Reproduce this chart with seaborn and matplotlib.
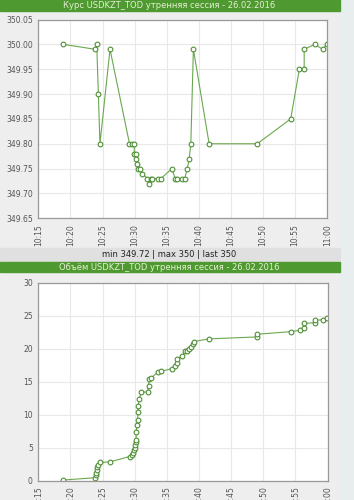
import numpy as np
import pandas as pd
import matplotlib
matplotlib.use("Agg")
import matplotlib.pyplot as plt
import matplotlib.dates as mdates
from matplotlib.patches import Rectangle
import seaborn as sns

# %% data

day = "2016-02-26"

price_times = [
    "10:18:54", "10:23:53", "10:24:06", "10:24:21", "10:24:36", "10:26:10",
    "10:29:12", "10:29:36", "10:29:57", "10:29:57", "10:30:12", "10:30:12",
    "10:30:24", "10:30:36", "10:30:48", "10:31:09", "10:32:00", "10:32:12",
    "10:32:30", "10:32:42", "10:33:36", "10:34:06", "10:35:48", "10:36:18",
    "10:36:39", "10:37:24", "10:37:48", "10:38:12", "10:38:30", "10:38:45",
    "10:39:09", "10:41:36", "10:49:06", "10:54:18", "10:55:39", "10:56:24",
    "10:56:24", "10:58:03", "10:59:18", "10:59:54",
]
price_values = [
    350.00, 349.99, 350.00, 349.90, 349.80, 349.99,
    349.80, 349.80, 349.80, 349.78, 349.78, 349.77,
    349.76, 349.75, 349.75, 349.74, 349.73, 349.72,
    349.73, 349.73, 349.73, 349.73, 349.75, 349.73,
    349.73, 349.73, 349.73, 349.75, 349.77, 349.80,
    349.99, 349.80, 349.80, 349.85, 349.95, 349.95,
    349.99, 350.00, 349.99, 350.00,
]

volume_times = [
    "10:18:54", "10:23:53", "10:23:57", "10:24:00", "10:24:06", "10:24:12",
    "10:24:21", "10:24:36", "10:26:10", "10:29:12", "10:29:36", "10:29:48",
    "10:29:57", "10:30:03", "10:30:06", "10:30:09", "10:30:12", "10:30:15",
    "10:30:21", "10:30:27", "10:30:30", "10:30:33", "10:30:42", "10:31:03",
    "10:32:00", "10:32:09", "10:32:15", "10:32:36", "10:33:36", "10:34:06",
    "10:35:48", "10:36:18", "10:36:33", "10:36:39", "10:37:24", "10:37:48",
    "10:38:06", "10:38:30", "10:38:45", "10:39:03", "10:39:09", "10:41:36",
    "10:49:06", "10:49:06", "10:54:18", "10:55:39", "10:56:18", "10:56:24",
    "10:58:03", "10:58:03", "10:59:18", "10:59:54",
]
volume_values = [
    0.15, 0.5, 0.9, 1.26, 1.66, 2.07,
    2.4, 2.8, 2.9, 3.7, 3.9, 4.2,
    4.7, 5.0, 5.4, 5.9, 6.2, 7.4,
    8.4, 9.2, 10.4, 11.3, 12.4, 13.4,
    13.5, 14.4, 15.4, 15.6, 16.5, 16.6,
    17.0, 17.4, 17.8, 18.5, 18.9, 19.6,
    19.7, 20.0, 20.3, 20.8, 21.1, 21.5,
    21.8, 22.2, 22.6, 22.8, 23.1, 23.85,
    23.95, 24.3, 24.4, 24.7,
]

price_title = "Курс USDKZT_TOD утренняя сессия - 26.02.2016"
volume_title = "Объём USDKZT_TOD утренняя сессия - 26.02.2016"

# %%

price = pd.DataFrame({"time": pd.to_datetime([f"{day} {t}" for t in price_times]),
                      "value": price_values})
volume = pd.DataFrame({"time": pd.to_datetime([f"{day} {t}" for t in volume_times]),
                       "value": volume_values})

sns.set_style("white")
plt.rcParams["font.family"] = ["DejaVu Sans"]
plt.rcParams["font.size"] = 5.5

W, H = 354, 500
fig = plt.figure(figsize=(W / 100, H / 100), dpi=100, facecolor="#eeeeee")

# right strip and header bars (pixel coords -> figure fractions)
def bar(x0, y0, x1, y1, color):
    fig.patches.append(Rectangle((x0 / W, 1 - y1 / H), (x1 - x0) / W, (y1 - y0) / H,
                                 transform=fig.transFigure, color=color, zorder=0))

bar(340, 0, 354, 500, "#e8eeee")
bar(0, 0, 340, 11, "#4f9a30")
bar(0, 248, 340, 261, "#e0e0e0")
bar(0, 261.5, 340, 272, "#4f9a30")

fig.text(169 / W, 1 - 5.5 / H, price_title, ha="center", va="center",
         color="#e4efd4", fontsize=6.0)
fig.text(169 / W, 1 - 267 / H, volume_title, ha="center", va="center",
         color="#e4efd4", fontsize=6.0)
stats = f"min {min(price_values):g} | max {max(price_values):g} | last {price_values[-1]:g}"
fig.text(169 / W, 1 - 254.5 / H, stats, ha="center", va="center",
         color="#222222", fontsize=6.0)

line_kws = dict(color="#6aa84f", linewidth=0.8, marker="o", markersize=3.4,
                markerfacecolor="white", markeredgecolor="#4f8f35",
                markeredgewidth=0.8, estimator=None, sort=False)

def axes_at(left, top, right, bottom):
    return fig.add_axes([left / W, 1 - bottom / H, (right - left) / W, (bottom - top) / H])

ax1 = axes_at(38.3, 19.5, 327.3, 218.3)
ax2 = axes_at(38.3, 282.7, 327.5, 481)

sns.lineplot(data=price, x="time", y="value", ax=ax1, **line_kws)
sns.lineplot(data=volume, x="time", y="value", ax=ax2, **line_kws)

ax1.set_ylim(349.65, 350.05)
ax1.set_yticks(np.arange(349.65, 350.051, 0.05))
ax1.yaxis.set_major_formatter(matplotlib.ticker.FormatStrFormatter("%.2f"))
ax2.set_ylim(0, 30)
ax2.set_yticks(range(0, 31, 5))

for ax in (ax1, ax2):
    ax.set_facecolor("white")
    ax.set_xlim(pd.Timestamp(f"{day} 10:15"), pd.Timestamp(f"{day} 11:00"))
    ax.xaxis.set_major_locator(mdates.MinuteLocator(byminute=range(0, 60, 5)))
    ax.xaxis.set_major_formatter(mdates.DateFormatter("%H:%M"))
    ax.grid(True, color="#e8e8e8", linewidth=0.8)
    ax.set_axisbelow(True)
    ax.set_xlabel("")
    ax.set_ylabel("")
    for s in ax.spines.values():
        s.set_color("#999999")
        s.set_linewidth(0.9)
    ax.tick_params(axis="both", colors="#999999", labelcolor="#555555",
                   labelsize=5.5, length=2.5, width=0.7, pad=1.5)
    ax.tick_params(axis="x", labelrotation=90)

plt.savefig("out.png", dpi=100, facecolor=fig.get_facecolor())
